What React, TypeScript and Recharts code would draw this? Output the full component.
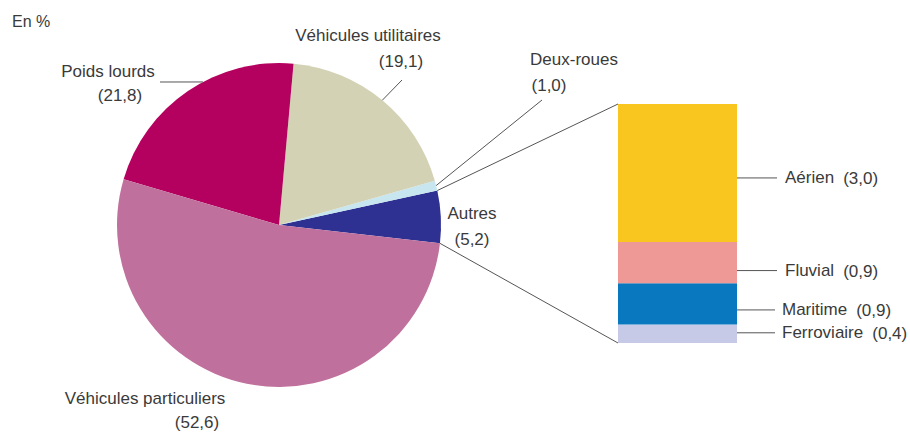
import { PieChart, Pie, Cell, BarChart, Bar, XAxis, YAxis, LabelList } from 'recharts';

const MODES = ['Autres', 'Deux-roues', 'Véhicules utilitaires', 'Poids lourds', 'Véhicules particuliers'];
const MODE_SHARES = [5.2, 1.0, 19.1, 21.8, 52.6];
const MODE_COLORS = ['#2e3192', '#c8e6f0', '#d4d2b4', '#b4005e', '#c0709c'];

const OTHER_KEYS = ['ferroviaire', 'maritime', 'fluvial', 'aerien'];
const OTHER_NAMES = ['Ferroviaire', 'Maritime', 'Fluvial', 'Aérien'];
const OTHER_SHARES = [0.4, 0.9, 0.9, 3.0];
const OTHER_COLORS = ['#c6cae6', '#0a78be', '#ee9995', '#f9c51f'];

const pieData = MODES.map((name, i) => ({ name, value: MODE_SHARES[i] }));
const barRow: Record<string, any> = { name: 'Autres' };
OTHER_KEYS.forEach((k, i) => (barRow[k] = OTHER_SHARES[i]));
const barData = [barRow];

const FONT = 'Liberation Sans, Arial, sans-serif';
const FS = 17;
const TEXT = '#3a3a3a';
const LINE = '#555';
const RAD = Math.PI / 180;

const PIE_CX = 279;
const PIE_CY = 225;
const PIE_R = 162;

const BAR_LEFT = 618;
const BAR_TOP = 104;
const BAR_W = 119;
const BAR_H = 239;

const fmt = (v: number) => v.toFixed(1).replace('.', ',');

// label placement per slice (same order as MODES)
const PIE_LABELS: any[] = [
  { x1: 472, y1: 213, x2: 472, y2: 239 },
  { x1: 574, y1: 59, x2: 549, y2: 85, line: { end: [542, 100] } },
  { x1: 368, y1: 35, x2: 401, y2: 61, line: { end: [402, 80] } },
  { x1: 108, y1: 71, x2: 120, y2: 95, line: { angle: 118, end: [160, 82] } },
  { x1: 145, y1: 398, x2: 197, y2: 422 },
];

const polar = (cx: number, cy: number, r: number, a: number) => [cx + r * Math.cos(-a * RAD), cy + r * Math.sin(-a * RAD)];

const renderPieLabel = (props: any) => {
  const { cx, cy, outerRadius, midAngle, startAngle, endAngle, index } = props;
  const cfg = PIE_LABELS[index];
  let leader = null;
  if (cfg.line) {
    const [sx, sy] = polar(cx, cy, outerRadius, cfg.line.angle ?? midAngle);
    leader = <line x1={sx} y1={sy} x2={cfg.line.end[0]} y2={cfg.line.end[1]} stroke={LINE} strokeWidth={1} />;
  }
  let connectors = null;
  if (index === 0) {
    const [ax, ay] = polar(cx, cy, outerRadius, endAngle);
    const [bx, by] = polar(cx, cy, outerRadius, startAngle);
    connectors = (
      <g>
        <line x1={ax} y1={ay} x2={BAR_LEFT} y2={BAR_TOP} stroke={LINE} strokeWidth={1} />
        <line x1={bx} y1={by} x2={BAR_LEFT} y2={BAR_TOP + BAR_H} stroke={LINE} strokeWidth={1} />
      </g>
    );
  }
  return (
    <g key={`lbl-${index}`}>
      {leader}
      {connectors}
      <text x={cfg.x1} y={cfg.y1} textAnchor="middle" dominantBaseline="central" fontFamily={FONT} fontSize={FS} fill={TEXT}>
        {MODES[index]}
      </text>
      <text x={cfg.x2} y={cfg.y2} textAnchor="middle" dominantBaseline="central" fontFamily={FONT} fontSize={FS} fill={TEXT}>
        ({fmt(MODE_SHARES[index])})
      </text>
    </g>
  );
};

// leader/text offsets for the stacked bar labels (same order as OTHER_KEYS)
const BAR_LABELS = [
  { dy: -1, line: 38, gap: 45 },
  { dy: 6, line: 38, gap: 45 },
  { dy: 8, line: 40, gap: 48 },
  { dy: 5, line: 40, gap: 48 },
];

const makeBarLabel = (i: number) => (props: any) => {
  const { x, y, width, height } = props;
  const cfg = BAR_LABELS[i];
  const right = Number(x) + Number(width);
  const my = Number(y) + Number(height) / 2 + cfg.dy;
  return (
    <g>
      <line x1={right} y1={my} x2={right + cfg.line} y2={my} stroke={LINE} strokeWidth={1} />
      <text x={right + cfg.gap} y={my} dominantBaseline="central" fontFamily={FONT} fontSize={FS} fill={TEXT}>
        {OTHER_NAMES[i]}
        <tspan dx={9}>({fmt(OTHER_SHARES[i])})</tspan>
      </text>
    </g>
  );
};

export default function App() {
  return (
    <div style={{ position: 'absolute', left: 0, top: 0, width: 910, height: 432, background: '#fff' }}>
      <div style={{ position: 'absolute', left: 0, top: 0 }}>
        <PieChart width={910} height={432} margin={{ top: 0, right: 0, bottom: 0, left: 0 }}>
          <text x={12} y={21} dominantBaseline="central" fontFamily={FONT} fontSize={FS - 1} fill={TEXT}>
            En %
          </text>
          <Pie
            data={pieData}
            dataKey="value"
            nameKey="name"
            cx={PIE_CX}
            cy={PIE_CY}
            innerRadius={0}
            outerRadius={PIE_R}
            startAngle={-6.5}
            endAngle={353.5}
            stroke="none"
            labelLine={false}
            label={renderPieLabel}
            isAnimationActive={false}
          >
            {pieData.map((d, i) => (
              <Cell key={d.name} fill={MODE_COLORS[i]} />
            ))}
          </Pie>
        </PieChart>
      </div>
      <div style={{ position: 'absolute', left: BAR_LEFT, top: BAR_TOP }}>
        <BarChart
          width={910 - BAR_LEFT}
          height={BAR_H}
          data={barData}
          margin={{ top: 0, right: 910 - BAR_LEFT - BAR_W, bottom: 0, left: 0 }}
          barCategoryGap={0}
        >
          <XAxis dataKey="name" hide />
          <YAxis hide domain={[0, 5.2]} />
          {OTHER_KEYS.map((k, i) => (
            <Bar key={k} dataKey={k} stackId="a" fill={OTHER_COLORS[i]} isAnimationActive={false}>
              <LabelList dataKey={k} content={makeBarLabel(i)} />
            </Bar>
          ))}
        </BarChart>
      </div>
    </div>
  );
}
